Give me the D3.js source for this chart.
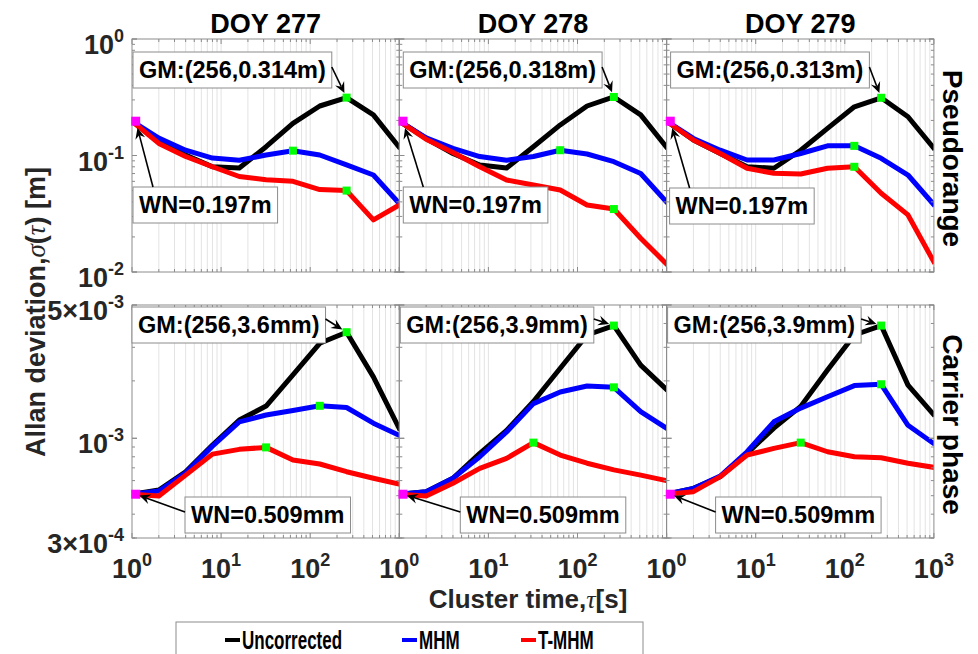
<!DOCTYPE html>
<html>
<head>
<meta charset="utf-8">
<script src="https://cdn.jsdelivr.net/npm/d3@7"></script>
<style>
  body { margin: 0; background: #fff; }
  svg { display: block; font-family: "Liberation Sans", Arial, sans-serif; }
</style>
</head>
<body>
<svg id="chart" width="978" height="654"></svg>
<script>
// ---- data -------------------------------------------------------------
const tau = [1, 2, 4, 8, 16, 32, 64, 128, 256, 512, 1024];
const days = ["DOY 277", "DOY 278", "DOY 279"];
const seriesNames = ["Uncorrected", "MHM", "T-MHM"];
const seriesColors = ["#000000", "#0000ff", "#ff0000"];

// Pseudorange Allan deviation [m], one row per day
const prUncorrected = [
  [0.197, 0.132, 0.101, 0.080, 0.078, 0.119, 0.189, 0.266, 0.314, 0.223, 0.115],
  [0.197, 0.140, 0.104, 0.083, 0.078, 0.119, 0.183, 0.266, 0.318, 0.223, 0.115],
  [0.197, 0.136, 0.104, 0.080, 0.0777, 0.111, 0.171, 0.262, 0.313, 0.215, 0.113]
];
const prMHM = [
  [0.197, 0.141, 0.111, 0.095, 0.091, 0.101, 0.110, 0.101, 0.083, 0.068, 0.038],
  [0.197, 0.142, 0.115, 0.098, 0.091, 0.098, 0.111, 0.103, 0.0885, 0.070, 0.039],
  [0.197, 0.140, 0.111, 0.0915, 0.0915, 0.104, 0.121, 0.121, 0.0946, 0.068, 0.037]
];
const prTMHM = [
  [0.197, 0.127, 0.098, 0.080, 0.066, 0.062, 0.060, 0.051, 0.050, 0.028, 0.038],
  [0.197, 0.138, 0.106, 0.080, 0.0616, 0.0558, 0.0506, 0.0376, 0.0347, 0.0195, 0.0115],
  [0.197, 0.136, 0.104, 0.0777, 0.0703, 0.0694, 0.0777, 0.080, 0.0474, 0.0309, 0.0118]
];

// Carrier-phase Allan deviation [m], one row per day
const cpUncorrected = [
  [0.509e-3, 5.35e-4, 6.68e-4, 9.22e-4, 1.247e-3, 1.476e-3, 2.15e-3, 3.15e-3, 3.6e-3, 2.10e-3, 1.10e-3],
  [0.509e-3, 5.25e-4, 6.17e-4, 8.34e-4, 1.10e-3, 1.56e-3, 2.33e-3, 3.48e-3, 3.9e-3, 2.42e-3, 1.78e-3],
  [0.509e-3, 5.46e-4, 6.29e-4, 8.34e-4, 1.13e-3, 1.47e-3, 2.28e-3, 3.48e-3, 3.9e-3, 1.90e-3, 1.31e-3]
];
const cpMHM = [
  [0.509e-3, 5.29e-4, 6.60e-4, 9.10e-4, 1.22e-3, 1.325e-3, 1.40e-3, 1.48e-3, 1.45e-3, 1.20e-3, 1.03e-3],
  [0.509e-3, 5.25e-4, 6.17e-4, 8.00e-4, 1.08e-3, 1.52e-3, 1.75e-3, 1.88e-3, 1.85e-3, 1.38e-3, 1.12e-3],
  [0.509e-3, 5.46e-4, 6.34e-4, 8.50e-4, 1.22e-3, 1.44e-3, 1.65e-3, 1.89e-3, 1.92e-3, 1.17e-3, 0.93e-3]
];
const cpTMHM = [
  [0.509e-3, 4.98e-4, 6.41e-4, 8.26e-4, 8.75e-4, 8.96e-4, 7.69e-4, 7.33e-4, 6.68e-4, 6.17e-4, 5.73e-4],
  [0.509e-3, 4.98e-4, 5.81e-4, 6.95e-4, 7.85e-4, 9.49e-4, 8.17e-4, 7.40e-4, 6.83e-4, 6.41e-4, 5.98e-4],
  [0.509e-3, 5.25e-4, 6.29e-4, 8.17e-4, 8.85e-4, 9.49e-4, 8.50e-4, 8.00e-4, 7.91e-4, 7.40e-4, 7.03e-4]
];

// Gauss-Markov correlation times marked on each curve [s], per day: [Uncorrected, MHM, T-MHM]
const prGmTau = [[256, 64, 256], [256, 64, 256], [256, 128, 128]];
const cpGmTau = [[256, 128, 32], [256, 256, 32], [256, 256, 32]];
// cluster time at which the white-noise level is marked [s]
const wnTau = 1.1;

// axis ticks
const xTickValues = [1, 10, 100, 1000];
const prTickValues = [1, 0.1, 0.01];
const prTickLabels = [["10", "0"], ["10", "-1"], ["10", "-2"]];
const cpTickValues = [5e-3, 1e-3, 3e-4];
const cpTickLabels = [["5×10", "-3"], ["10", "-3"], ["3×10", "-4"]];
const rowNames = ["Pseudorange", "Carrier phase"];

// ---- layout -----------------------------------------------------------
const svg = d3.select("#chart");
const panelLeft = 132, panelW = 267.3;
const rowBox = [{ top: 39, bottom: 272 }, { top: 305, bottom: 538 }];
const frameColor = "#8c8c8c", gridColor = "#e3e3e3", textColor = "#262626";

const xScale = i => d3.scaleLog().domain([1, 1000]).range([panelLeft + i * panelW, panelLeft + (i + 1) * panelW]);
const yScales = [
  d3.scaleLog().domain([0.01, 1]).range([rowBox[0].bottom, rowBox[0].top]),
  d3.scaleLog().domain([3e-4, 5e-3]).range([rowBox[1].bottom, rowBox[1].top])
];

const rowData = [
  { series: [prUncorrected, prMHM, prTMHM], gm: prGmTau,
    ticks: prTickValues, labels: prTickLabels,
    gmText: v => `GM:(256,${v.toFixed(3)}m)`, wnText: v => `WN=${v.toFixed(3)}m` },
  { series: [cpUncorrected, cpMHM, cpTMHM], gm: cpGmTau,
    ticks: cpTickValues, labels: cpTickLabels,
    gmText: v => `GM:(256,${(v * 1000).toFixed(1)}mm)`, wnText: v => `WN=${(v * 1000).toFixed(3)}mm` }
];

// annotation placement: box [left offset from panel, top]
const gmBox = [
  [[1, 52], [4, 52], [4, 52]],
  [[0, 307], [1, 307], [1, 307]]
];
const wnBox = [
  [[1, 187], [4, 187], [3, 188]],
  [[53, 497], [61, 497], [49, 497]]
];

const xMinor = [];
for (let e = 0; e < 3; e++) for (let k = 1; k < 10; k++) xMinor.push(k * Math.pow(10, e));
xMinor.push(1000);

function yMinorFor(scale) {
  const [lo, hi] = scale.domain();
  const out = [];
  for (let e = -5; e < 1; e++) for (let k = 1; k < 10; k++) {
    const v = k * Math.pow(10, e);
    if (v >= lo * 0.999 && v <= hi * 1.001) out.push(v);
  }
  return out;
}

const defs = svg.append("defs");

function supText(g, xPos, yPos, parts, anchor, size, supSize, supDy) {
  const t = g.append("text").attr("x", xPos).attr("y", yPos)
    .attr("text-anchor", anchor).attr("font-weight", "bold")
    .attr("font-size", size).attr("fill", textColor);
  t.append("tspan").text(parts[0]);
  t.append("tspan").attr("dy", supDy).attr("font-size", supSize).text(parts[1]);
  return t;
}

function arrow(g, x1, y1, x2, y2) {
  const dx = x2 - x1, dy = y2 - y1, L = Math.hypot(dx, dy);
  const ux = dx / L, uy = dy / L, nx = -uy, ny = ux;
  const hl = 11, hw = 5;
  const bx = x2 - ux * hl, by = y2 - uy * hl;
  const mx = x2 - ux * hl * 0.65, my = y2 - uy * hl * 0.65;
  g.append("line").attr("x1", x1).attr("y1", y1).attr("x2", mx).attr("y2", my)
    .attr("stroke", "#000").attr("stroke-width", 1.6);
  g.append("path")
    .attr("d", `M${x2},${y2}L${bx + nx * hw},${by + ny * hw}L${mx},${my}L${bx - nx * hw},${by - ny * hw}Z`)
    .attr("fill", "#000");
}

function annotation(g, left, top, text) {
  const h = 36;
  const box = g.append("rect").attr("x", left).attr("y", top).attr("height", h)
    .attr("fill", "#fff").attr("stroke", "#8c8c8c").attr("stroke-width", 1);
  const t = g.append("text").attr("x", left + 6).attr("y", top + 26)
    .attr("font-weight", "bold").attr("font-size", 23.5).attr("fill", "#000").text(text);
  const w = t.node().getComputedTextLength();
  box.attr("width", w + 12);
  return { left, top, right: left + w + 12, bottom: top + h };
}

// ---- panels -----------------------------------------------------------
rowData.forEach((rd, r) => {
  const y = yScales[r];
  const { top, bottom } = rowBox[r];
  days.forEach((day, d) => {
    const x = xScale(d);
    const [x0, x1] = x.range();
    const g = svg.append("g");

    // vertical grid
    g.selectAll("line.grid").data(xMinor.filter(v => v > 1 && v < 1000)).join("line")
      .attr("x1", v => x(v)).attr("x2", v => x(v)).attr("y1", top).attr("y2", bottom)
      .attr("stroke", gridColor).attr("stroke-width", 1);

    const clipId = `clip-${r}-${d}`;
    defs.append("clipPath").attr("id", clipId).append("rect")
      .attr("x", x0).attr("y", top).attr("width", x1 - x0).attr("height", bottom - top);

    const line = d3.line().x((v, i) => x(tau[i])).y(v => y(v));
    const plot = g.append("g").attr("clip-path", `url(#${clipId})`);
    rd.series.forEach((s, k) => {
      plot.append("path").attr("d", line(s[d])).attr("fill", "none")
        .attr("stroke", seriesColors[k]).attr("stroke-width", 5)
        .attr("stroke-linejoin", "round");
    });

    // frame and ticks
    g.append("rect").attr("x", x0).attr("y", top).attr("width", x1 - x0).attr("height", bottom - top)
      .attr("fill", "none").attr("stroke", frameColor).attr("stroke-width", 1);
    xMinor.forEach(v => {
      const len = xTickValues.includes(v) ? 5 : 3;
      g.append("line").attr("x1", x(v)).attr("x2", x(v)).attr("y1", bottom).attr("y2", bottom - len)
        .attr("stroke", frameColor);
      g.append("line").attr("x1", x(v)).attr("x2", x(v)).attr("y1", top).attr("y2", top + len)
        .attr("stroke", frameColor);
    });
    yMinorFor(y).concat(rd.ticks).forEach(v => {
      const len = rd.ticks.includes(v) ? 5 : 3;
      g.append("line").attr("x1", x0).attr("x2", x0 + len).attr("y1", y(v)).attr("y2", y(v)).attr("stroke", frameColor);
      g.append("line").attr("x1", x1).attr("x2", x1 - len).attr("y1", y(v)).attr("y2", y(v)).attr("stroke", frameColor);
    });

    // markers
    const blackGm = {};
    rd.series.forEach((s, k) => {
      const t = rd.gm[d][k];
      const v = s[d][tau.indexOf(t)];
      if (k === 0) { blackGm.tx = x(t); blackGm.ty = y(v); blackGm.v = v; }
      g.append("rect").attr("x", x(t) - 4).attr("y", y(v) - 4).attr("width", 8).attr("height", 8)
        .attr("fill", "#00ff00");
    });
    const wnVal = rd.series[0][d][0];
    const wx = x(wnTau), wy = y(wnVal);
    g.append("rect").attr("x", wx - 4.5).attr("y", wy - 4.5).attr("width", 9).attr("height", 9)
      .attr("fill", "#ff00ff");

    // annotations
    const ag = svg.append("g");
    const gb = annotation(ag, x0 + gmBox[r][d][0], gmBox[r][d][1], rd.gmText(blackGm.v));
    const wb = annotation(ag, x0 + wnBox[r][d][0], wnBox[r][d][1], rd.wnText(wnVal));

    // GM arrow: from the right side of the box toward the marker
    {
      const tx = gb.right, ty = r === 0 ? gb.top + 15 : gb.top + 12;
      const dx = blackGm.tx - tx, dy = blackGm.ty - ty, L = Math.hypot(dx, dy);
      arrow(ag, tx, ty, blackGm.tx - dx / L * 5, blackGm.ty - dy / L * 5);
    }
    // WN arrow: from the box toward the magenta marker
    {
      const tx = r === 0 ? wb.left + 20 : wb.left, ty = r === 0 ? wb.top : wb.top + 15;
      const dx = wx - tx, dy = wy - ty, L = Math.hypot(dx, dy);
      const off = r === 0 ? 7 : 4;
      arrow(ag, tx, ty, wx - dx / L * off, wy - dy / L * off);
    }

    // tick labels
    if (r === 1) {
      xTickValues.forEach(v => {
        if (v === 1000 && d < 2) return;
        supText(svg, x(v), 578, ["10", String(Math.round(Math.log10(v)))], "middle", 27, 18, -12);
      });
    }
    if (d === 0) {
      rd.ticks.forEach((v, i) => {
        supText(svg, 124, y(v) + 15, rd.labels[i], "end", 27, 18, -12);
      });
    }
    if (r === 0) {
      svg.append("text").attr("x", (x0 + x1) / 2).attr("y", 33).attr("text-anchor", "middle")
        .attr("font-weight", "bold").attr("font-size", 27).attr("fill", "#000").text(day);
    }
  });

  // row name on the right
  svg.append("text").attr("transform", `translate(943,${(top + bottom) / 2 + 3}) rotate(90)`)
    .attr("text-anchor", "middle").attr("font-weight", "bold").attr("font-size", 28)
    .attr("fill", "#000").text(rowNames[r]);
});

// axis titles
{
  const t = svg.append("text").attr("transform", "translate(45,312) rotate(-90)")
    .attr("text-anchor", "middle").attr("font-weight", "bold").attr("font-size", 27).attr("fill", textColor);
  t.append("tspan").text("Allan deviation,");
  t.append("tspan").attr("font-family", "Liberation Serif, serif").attr("font-style", "italic").attr("font-weight", "normal").text("σ");
  t.append("tspan").text("(");
  t.append("tspan").attr("font-family", "Liberation Serif, serif").attr("font-style", "italic").attr("font-weight", "normal").text("τ");
  t.append("tspan").text(") [m]");
}
{
  const t = svg.append("text").attr("x", 528).attr("y", 608)
    .attr("text-anchor", "middle").attr("font-weight", "bold").attr("font-size", 26).attr("fill", textColor);
  t.append("tspan").text("Cluster time,");
  t.append("tspan").attr("font-family", "Liberation Serif, serif").attr("font-style", "italic").attr("font-weight", "normal").text("τ");
  t.append("tspan").text("[s]");
}

// ---- legend -----------------------------------------------------------
const legend = svg.append("g");
legend.append("rect").attr("x", 176).attr("y", 622).attr("width", 467).attr("height", 50)
  .attr("fill", "#fff").attr("stroke", "#8c8c8c");
const legendX = [225, 402, 521];
seriesNames.forEach((name, k) => {
  legend.append("line").attr("x1", legendX[k]).attr("x2", legendX[k] + 15)
    .attr("y1", 640).attr("y2", 640).attr("stroke", seriesColors[k]).attr("stroke-width", 4);
  legend.append("text").attr("transform", `translate(${legendX[k] + 17},649) scale(0.68,1)`)
    .attr("font-weight", "bold").attr("font-size", 25).attr("fill", "#000").text(name);
});
</script>
</body>
</html>
